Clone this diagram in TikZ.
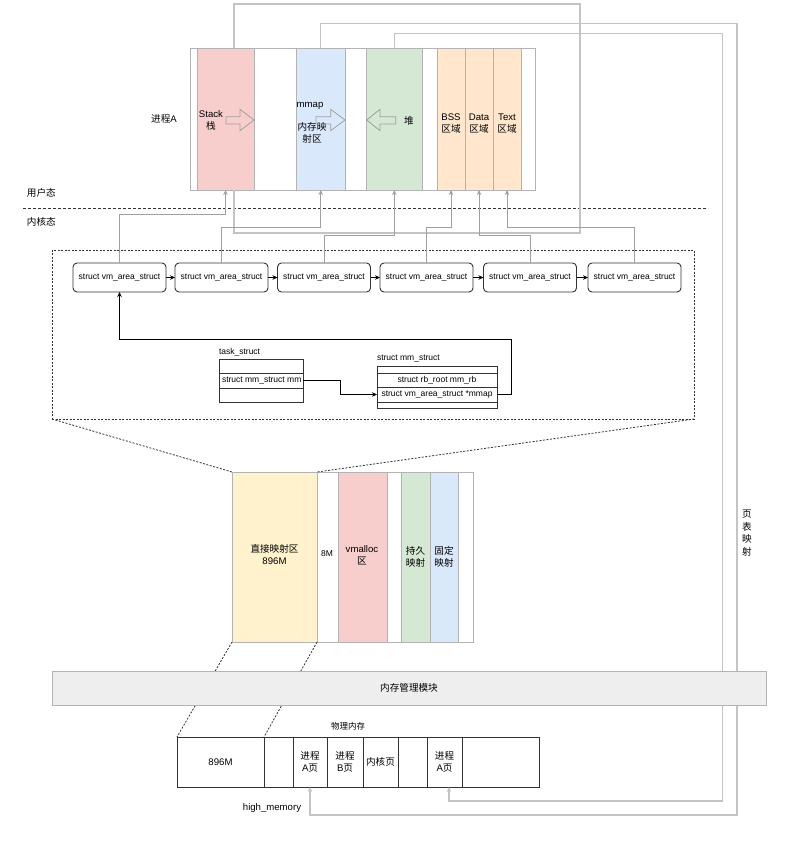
\documentclass[tikz,border=0pt]{standalone}
\usepackage{fontspec}
\setmainfont{Liberation Sans}
\newfontfamily\cjk{Noto Sans CJK SC}
\usetikzlibrary{arrows.meta,calc}
\definecolor{pinkf}{HTML}{F8CECC}
\definecolor{bluef}{HTML}{DAE8FC}
\definecolor{greenf}{HTML}{D5E8D4}
\definecolor{orangef}{HTML}{FFE6CC}
\definecolor{yellowf}{HTML}{FFF2CC}
\definecolor{modf}{HTML}{EEEEEE}
\definecolor{cellb}{HTML}{B3B3B3}
\definecolor{linkc}{HTML}{A0A0A0}
\definecolor{loopc}{HTML}{C4C4C4}
\definecolor{darkb}{HTML}{333333}
\newcommand\fslab{\fontsize{9.6}{12}\selectfont}
\newcommand\fsst{\fontsize{8.5}{10}\selectfont}
\newcommand\mkrect[6]{\node[#1,anchor=north west,minimum width={(#4)-(#2)},minimum height={(#5)-(#3)}] (#6) at (#2,#3) {};}
\begin{document}
\begin{tikzpicture}[x=1pt,y=-1pt,
  every node/.style={inner sep=0pt,outer sep=0pt},
  cell/.style={draw=cellb,line width=0.9pt},
  pcell/.style={draw=darkb,line width=0.9pt},
  lab/.style={font=\fslab,align=center,text=black},
  clab/.style={font=\fslab\cjk,align=center,text=black},
  stl/.style={font=\fsst,align=center,text=black},
  cstl/.style={font=\fsst\cjk,align=center,text=black},
  vm/.style={draw=darkb,line width=0.9pt,rounded corners=4pt,minimum width=93,minimum height=29,font=\fsst},
  barr/.style={draw=black,line width=0.8pt,-{Stealth[length=5pt,width=4.5pt]}},
  garr/.style={draw=linkc,line width=0.8pt,-{Stealth[length=5pt,width=4.5pt]}},
  loopline/.style={draw=loopc,line width=1.1pt},
  gloop/.style={draw=loopc,line width=1.1pt,-{Stealth[length=5pt,width=4.5pt]}},
  bigarrow/.style={draw=linkc,line width=0.8pt},
  dotl/.style={draw=darkb,line width=0.8pt,dash pattern=on 2pt off 1.5pt},
  sepl/.style={draw=darkb,line width=0.7pt,dash pattern=on 3pt off 2pt}
]
\fill[white] (0,0) rectangle (805,848);
\useasboundingbox (0,0) rectangle (805,848);

% ---------- process A address space ----------
\mkrect{cell,fill=white}{190}{48}{535.5}{190}{frameA}
\mkrect{cell,fill=pinkf}{197}{48}{254}{190}{stack}
\mkrect{cell,fill=bluef}{296}{48}{345.5}{190}{mmapc}
\mkrect{cell,fill=greenf}{366}{48}{422.5}{190}{heap}
\mkrect{cell,fill=orangef}{437}{48}{465}{190}{bss}
\mkrect{cell,fill=orangef}{465}{48}{493}{190}{datac}
\mkrect{cell,fill=orangef}{493}{48}{521}{190}{textc}

\node[lab] (procA) at (164,119) {{\cjk 进程}A};
\node[lab] (stackl) at (211,120) {Stack\\{\cjk 栈}};
\node[lab] (mmapl) at (310,106) {mmap};
\node[clab] (mmapl2) at (312,133) {内存映\\射区};
\node[clab] (heapl) at (409,121) {堆};
\node[lab] (bssl) at (451,124) {BSS\\{\cjk 区域}};
\node[lab] (datal) at (479,124) {Data\\{\cjk 区域}};
\node[lab] (textl) at (507,124) {Text\\{\cjk 区域}};

% block arrows
\draw[bigarrow] (226,116.7) -- (240,116.7) -- (240,109.3) -- (254,120) -- (240,130.7) -- (240,124) -- (226,124) -- cycle;
\draw[bigarrow] (316,116.7) -- (330.7,116.7) -- (330.7,109.3) -- (345,120) -- (330.7,130.7) -- (330.7,124) -- (316,124) -- cycle;
\draw[bigarrow] (395.7,116.7) -- (380,116.7) -- (380,109.3) -- (366.7,120) -- (380,130.7) -- (380,124) -- (395.7,124) -- cycle;

% user / kernel separator
\coordinate (sepA) at (23,208);
\coordinate (sepB) at (708,208);
\draw[sepl] (sepA) -- (sepB);
\node[clab,anchor=west] (userl) at (27,193) {用户态};
\node[clab,anchor=west] (kernl) at (27,222) {内核态};

% ---------- vm_area_struct list ----------
\mkrect{dotl}{52}{250}{694}{419}{kbox}
\node[vm] (vm1) at (119.5,277.5) {struct vm\_area\_struct};
\node[vm] (vm2) at (221.5,277.5) {struct vm\_area\_struct};
\node[vm] (vm3) at (324,277.5) {struct vm\_area\_struct};
\node[vm] (vm4) at (426.5,277.5) {struct vm\_area\_struct};
\node[vm] (vm5) at (530,277.5) {struct vm\_area\_struct};
\node[vm] (vm6) at (634.5,277.5) {struct vm\_area\_struct};
\draw[barr] (vm1.east) -- (vm2.west);
\draw[barr] (vm2.east) -- (vm3.west);
\draw[barr] (vm3.east) -- (vm4.west);
\draw[barr] (vm4.east) -- (vm5.west);
\draw[barr] (vm5.east) -- (vm6.west);

% loop of the stack
\coordinate (sloop) at (580,233);
\draw[loopline] ([xshift=8.5pt]stack.north) -- ++(0,-44) -| (sloop) -| ([xshift=8.5pt]stack.south);

\draw[garr] (vm1.north) -- (vm1.north |- 0,214) -| (stack.south);
\draw[garr] (vm2.north) -- (vm2.north |- 0,227) -| (mmapc.south);
\draw[garr] (vm3.north) -- (vm3.north |- 0,235.5) -| (heap.south);
\draw[garr] (vm4.north) -- (vm4.north |- 0,227) -| (bss.south);
\draw[garr] (vm5.north) -- (vm5.north |- 0,235.5) -| (datac.south);
\draw[garr] (vm6.north) -- (vm6.north |- 0,227) -| (textc.south);

% task_struct
\node[stl,anchor=west] (tsl) at (219,352) {task\_struct};
\mkrect{pcell}{219}{359}{303}{373}{t1}
\mkrect{pcell}{219}{373}{303}{388}{t2}
\mkrect{pcell}{219}{388}{303}{402}{t3}
\node[stl,anchor=west] (t2l) at (222,380.5) {struct mm\_struct mm};

% mm_struct
\node[stl,anchor=west] (msl) at (377,359) {struct mm\_struct};
\mkrect{pcell}{377}{366}{497}{373}{m1}
\mkrect{pcell}{377}{373}{497}{387}{m2}
\mkrect{pcell}{377}{387}{497}{402}{m3}
\mkrect{pcell}{377}{402}{497}{408}{m4}
\node[stl] (m2l) at (437,380) {struct rb\_root mm\_rb};
\node[stl] (m3l) at (437,394.5) {struct vm\_area\_struct *mmap};

\draw[barr] (t2.east) -- ++(37,0) |- (m3.west);
\draw[barr] (m3.east) -- ++(14,0) -- ++(0,-55.5) -| (vm1.south);

% ---------- kernel address space ----------
\mkrect{cell,fill=white}{232}{472}{473}{642}{kfr}
\mkrect{cell,fill=yellowf}{232}{472}{317}{642}{direct}
\mkrect{cell,fill=pinkf}{338}{472}{387}{642}{vmal}
\mkrect{cell,fill=greenf}{401}{472}{430}{642}{persist}
\mkrect{cell,fill=bluef}{430}{472}{458}{642}{fixedc}
\node[lab] (directl) at (274.5,555) {{\cjk 直接映射区}\\896M};
\node[stl] (w8l) at (327,554) {8M};
\node[lab] (vmall) at (362,555) {vmalloc\\{\cjk 区}};
\node[clab] (persistl) at (415.5,557) {持久\\映射};
\node[clab] (fixedl) at (444,557) {固定\\映射};

\draw[dotl] (kbox.south west) -- (direct.north west);
\draw[dotl] (kbox.south east) -- (direct.north east);

% ---------- physical memory ----------
\mkrect{pcell}{177}{737}{264}{787}{p896}
\mkrect{pcell}{264}{737}{293}{787}{pe1}
\mkrect{pcell}{293}{737}{327}{787}{pA1}
\mkrect{pcell}{327}{737}{363}{787}{pB}
\mkrect{pcell}{363}{737}{398}{787}{pK}
\mkrect{pcell}{398}{737}{427}{787}{pe2}
\mkrect{pcell}{427}{737}{462}{787}{pA2}
\mkrect{pcell}{462}{737}{539}{787}{pe3}
\node[lab] (p896l) at (p896) {896M};
\node[lab] (pA1l) at (pA1) {{\cjk 进程}\\A{\cjk 页}};
\node[lab] (pBl) at (pB) {{\cjk 进程}\\B{\cjk 页}};
\node[clab] (pKl) at (pK) {内核页};
\node[lab] (pA2l) at (pA2) {{\cjk 进程}\\A{\cjk 页}};
\node[cstl] (physl) at (348,726) {物理内存};
\node[lab] (hml) at (272,808) {high\_memory};

\draw[dotl] (direct.south west) -- (p896.north west);
\draw[dotl] (direct.south east) -- (p896.north east);

% page table mapping loops
\coordinate (mloop) at (737,815);
\coordinate (hloop) at (722.5,801);
\draw[gloop] (mmapc.north) -- ++(0,-24.5) -| (mloop) -| (pA1.south);
\draw[gloop] (heap.north) -- ++(0,-14.5) -| (hloop) -| ([xshift=4.5pt]pA2.south);
\node[clab,font=\fontsize{9.6}{12.7}\selectfont\cjk] (ptl) at (747,533) {页\\表\\映\\射};

% memory management module
\mkrect{cell,fill=modf}{52}{671}{766}{705}{mmod}
\node[clab] (mmodl) at (mmod) {内存管理模块};
\end{tikzpicture}
\end{document}
